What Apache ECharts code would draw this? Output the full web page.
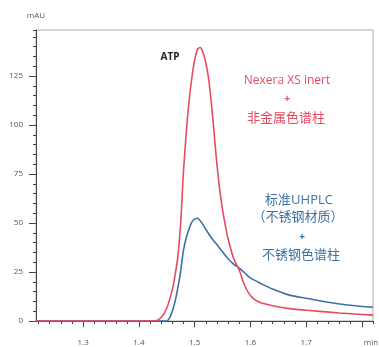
<!DOCTYPE html>
<html><head><meta charset="utf-8">
<script src="https://cdn.jsdelivr.net/npm/echarts@6/dist/echarts.min.js"></script>
<style>html,body{margin:0;padding:0;background:#fff}#c{width:379px;height:347px}</style>
</head><body><div id="c"></div>
<script>
// Data (retention time in min, absorbance in mAU)
const redX = [1.215, 1.40, 1.43, 1.44, 1.45, 1.46, 1.465, 1.47, 1.475, 1.48, 1.485, 1.49, 1.495, 1.50, 1.505, 1.51, 1.515, 1.52, 1.525, 1.53, 1.535, 1.54, 1.545, 1.55, 1.555, 1.56, 1.57, 1.58, 1.59, 1.60, 1.61, 1.62, 1.64, 1.67, 1.70, 1.76, 1.82];
const redY = [0, 0, 0.1, 1.8, 6.5, 16, 23.5, 33, 50, 76, 96, 112, 124, 133, 138.5, 139.6, 137, 132, 124, 111, 96, 80, 67, 57, 49, 42, 32, 26, 18, 13, 10.5, 9.2, 7.8, 6.3, 5.5, 4.1, 3.0];
const blueX = [1.215, 1.40, 1.45, 1.455, 1.46, 1.465, 1.47, 1.475, 1.48, 1.485, 1.49, 1.495, 1.50, 1.505, 1.51, 1.515, 1.52, 1.53, 1.54, 1.55, 1.56, 1.57, 1.58, 1.59, 1.60, 1.62, 1.64, 1.67, 1.70, 1.76, 1.82];
const blueY = [0, 0, 0, 1.5, 5, 10, 17, 25.5, 36, 42.5, 47, 50.5, 52, 52.4, 51.2, 49.3, 46.8, 42.5, 39, 35.3, 31.8, 29, 27, 24.5, 22, 19, 16.3, 13.2, 11.6, 8.7, 7.0];
const xMajorTicks = [1.3, 1.4, 1.5, 1.6, 1.7, 1.8];
const yMajorTicks = [0, 25, 50, 75, 100, 125];

const X_MIN = 1.2155, X_MAX = 1.82, Y_MAX = 148.5;
const GL = 36, GR = 6, GT = 30, GB = 26, W = 379, H = 347;
const pw = W - GL - GR, ph = H - GT - GB;
const xpx = v => GL + (v - X_MIN) / (X_MAX - X_MIN) * pw;
const ypx = v => H - GB - v / Y_MAX * ph;

const redC = '#e84a62', blueC = '#3b72a6';
const txtFont = "'Open Sans','Noto Sans CJK SC',sans-serif";
const labelStyle = {fontSize: 8, color: '#555', fontFamily: "'Open Sans',sans-serif"};

const chart = echarts.init(document.getElementById('c'), null, {renderer: 'canvas'});
const hiddenX = i => ({type: 'value', gridIndex: i, show: false, min: 0, max: 1});
const hiddenY = i => ({type: 'value', gridIndex: i, show: false, min: 0, max: 1});
const option = {
  animation: false,
  grid: [
    {left: GL, right: GR, top: GT, bottom: GB, show: true, borderColor: '#aaa', borderWidth: 1},
    {left: xpx(1.22), right: W - xpx(1.82), top: GT, bottom: GB},
    {left: xpx(xMajorTicks[0]), right: W - xpx(xMajorTicks[xMajorTicks.length - 1]), top: GT, bottom: GB},
    {left: GL, right: GR, top: ypx(yMajorTicks[yMajorTicks.length - 1]), bottom: GB}
  ],
  xAxis: [
    {type: 'value', gridIndex: 0, min: X_MIN, max: X_MAX, axisLine: {lineStyle: {color: '#444', width: 1}}, axisTick: {show: false}, axisLabel: {show: false}, splitLine: {show: false}},
    {type: 'value', gridIndex: 1, min: 1.22, max: 1.82, interval: 0.02, axisLine: {show: false}, axisTick: {length: 3, lineStyle: {color: '#444'}}, axisLabel: {show: false}, splitLine: {show: false}},
    {type: 'value', gridIndex: 2, min: xMajorTicks[0], max: xMajorTicks[xMajorTicks.length - 1], interval: 0.1, axisLine: {show: false}, axisTick: {length: 6, lineStyle: {color: '#444'}},
      axisLabel: Object.assign({margin: 18, formatter: v => (Math.abs(v - 1.8) < 1e-6 ? '' : v.toFixed(1))}, labelStyle), splitLine: {show: false}},
    hiddenX(3)
  ],
  yAxis: [
    {type: 'value', gridIndex: 0, min: 0, max: Y_MAX, interval: 5, axisLine: {show: true, lineStyle: {color: '#444', width: 1}}, axisTick: {show: true, length: 3, lineStyle: {color: '#444'}}, axisLabel: {show: false}, splitLine: {show: false}},
    hiddenY(1), hiddenY(2),
    {type: 'value', gridIndex: 3, min: 0, max: yMajorTicks[yMajorTicks.length - 1], interval: 25, axisLine: {show: false}, axisTick: {show: true, length: 7, lineStyle: {color: '#444'}},
      axisLabel: Object.assign({margin: 13}, labelStyle), splitLine: {show: false}}
  ],
  series: [
    {type: 'line', xAxisIndex: 0, yAxisIndex: 0, data: blueX.map((x, i) => [x, blueY[i]]), smooth: 0.3, showSymbol: false, lineStyle: {color: blueC, width: 1.6}, z: 2},
    {type: 'line', xAxisIndex: 0, yAxisIndex: 0, data: redX.map((x, i) => [x, redY[i]]), smooth: 0.3, showSymbol: false, lineStyle: {color: redC, width: 1.6}, z: 3}
  ],
  graphic: [
    {type: 'text', x: 36, y: 16, style: {text: 'mAU', fill: '#555', font: "8px 'Open Sans',sans-serif", textAlign: 'center', textVerticalAlign: 'middle'}},
    {type: 'text', x: 371, y: 343, style: {text: 'min', fill: '#555', font: "8px 'Open Sans',sans-serif", textAlign: 'center', textVerticalAlign: 'middle'}},
    {type: 'text', x: 170, y: 57, style: {text: 'ATP', fill: '#222', font: "bold 10px 'Open Sans',sans-serif", textAlign: 'center', textVerticalAlign: 'middle'}},
    {type: 'text', x: 287, y: 81, style: {text: 'Nexera XS inert', fill: redC, font: "12px " + txtFont, textAlign: 'center', textVerticalAlign: 'middle'}},
    {type: 'text', x: 287, y: 99, style: {text: '+', fill: redC, font: "bold 10px " + txtFont, textAlign: 'center', textVerticalAlign: 'middle'}},
    {type: 'text', x: 286, y: 118, style: {text: '非金属色谱柱', fill: redC, font: "13px " + txtFont, textAlign: 'center', textVerticalAlign: 'middle'}},
    {type: 'text', x: 299, y: 200, style: {text: '标准UHPLC', fill: blueC, font: "13px " + txtFont, textAlign: 'center', textVerticalAlign: 'middle'}},
    {type: 'text', x: 298, y: 217, style: {text: '（不锈钢材质）', fill: blueC, font: "13px " + txtFont, textAlign: 'center', textVerticalAlign: 'middle'}},
    {type: 'text', x: 302, y: 237, style: {text: '+', fill: blueC, font: "bold 10px " + txtFont, textAlign: 'center', textVerticalAlign: 'middle'}},
    {type: 'text', x: 301, y: 255, style: {text: '不锈钢色谱柱', fill: blueC, font: "13px " + txtFont, textAlign: 'center', textVerticalAlign: 'middle'}}
  ]
};
chart.setOption(option);
</script></body></html>
